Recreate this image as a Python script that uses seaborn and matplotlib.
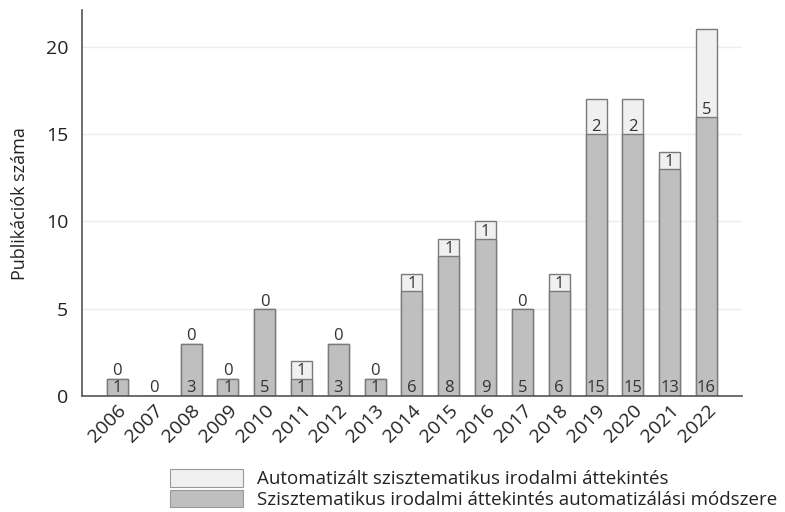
import seaborn as sns
import matplotlib.pyplot as plt
import pandas as pd
from matplotlib.patches import Patch

years = [str(y) for y in range(2006, 2023)]
method = [1, 0, 3, 1, 5, 1, 3, 1, 6, 8, 9, 5, 6, 15, 15, 13, 16]
automated = [0, 0, 0, 0, 0, 1, 0, 0, 1, 1, 1, 0, 1, 2, 2, 1, 5]

label_auto = 'Automatizált szisztematikus irodalmi áttekintés'
label_method = 'Szisztematikus irodalmi áttekintés automatizálási módszere'

light = '#f0f0f0'
gray = '#bfbfbf'
edge = '#7a7a7a'
text_col = '#333333'


def operation():
    sns.set_style('white')
    plt.rcParams['font.family'] = ['Open Sans', 'DejaVu Sans']

    df = pd.DataFrame({'year': years, 'method': method, 'automated': automated})
    df['total'] = df['method'] + df['automated']

    fig = plt.figure(figsize=(7.85, 5.12), dpi=100)
    ax = fig.add_axes([0.1045, 0.2266, 0.8405, 0.7534])

    sns.barplot(data=df, x='year', y='total', order=years, color=light,
                width=0.57, edgecolor=edge, linewidth=1, saturation=1, ax=ax)
    sns.barplot(data=df, x='year', y='method', order=years, color=gray,
                width=0.57, edgecolor=edge, linewidth=1, saturation=1, ax=ax)

    for i, (m, a) in enumerate(zip(method, automated)):
        ax.text(i, 0.0, str(m), ha='center', va='bottom', fontsize=12, color=text_col)
        if not (m == 0 and a == 0):
            ax.text(i, m - 0.05, str(a), ha='center', va='bottom', fontsize=12, color=text_col)

    ax.set_xlim(-0.96, len(years) - 0.04)
    ax.set_ylim(0, 22.1)
    ax.set_yticks([0, 5, 10, 15, 20])
    ax.yaxis.grid(True, color='#ececec', linewidth=1)
    ax.set_axisbelow(True)
    for side in ['top', 'right']:
        ax.spines[side].set_visible(False)
    for side in ['left', 'bottom']:
        ax.spines[side].set_color('#555555')
        ax.spines[side].set_linewidth(1.2)

    ax.tick_params(axis='y', labelsize=14, length=8, width=1, pad=2,
                   color='#555555', labelcolor='#222222')
    ax.tick_params(axis='x', labelsize=14, length=0, pad=4, labelcolor='#222222')
    plt.setp(ax.get_xticklabels(), rotation=45, ha='right', rotation_mode='anchor')

    ax.set_xlabel('')
    ax.set_ylabel('Publikációk száma', fontsize=13, color='#222222', labelpad=12)

    handles = [Patch(facecolor=light, edgecolor='#999999', linewidth=0.8),
               Patch(facecolor=gray, edgecolor='#999999', linewidth=0.8)]
    fig.legend(handles, [label_auto, label_method], loc='lower left',
               bbox_to_anchor=(0.2166, 0.006), frameon=False, fontsize=13.5,
               borderpad=0, borderaxespad=0,
               handlelength=3.9, handleheight=1.05, handletextpad=0.75,
               labelspacing=0.08, labelcolor='#222222')

    fig.savefig('out.png', dpi=100)


if __name__ == "__main__":
    operation()
